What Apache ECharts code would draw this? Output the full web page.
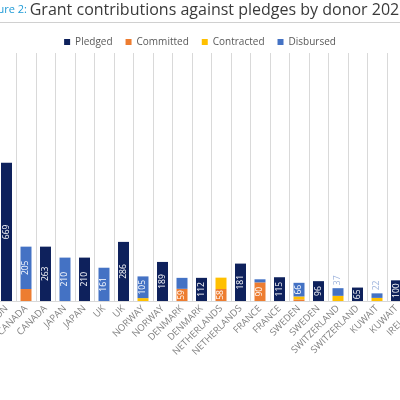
<!DOCTYPE html>
<html>
<head>
<meta charset="utf-8">
<script src="https://cdn.jsdelivr.net/npm/echarts@6/dist/echarts.min.js"></script>
<style>html,body{margin:0;padding:0;background:#fff}#c{width:400px;height:400px}</style>
</head>
<body>
<div id="c"></div>
<script>
const categories = ['EUROPEAN UNION','CANADA','CANADA','JAPAN','JAPAN','UK','UK','NORWAY','NORWAY','DENMARK','DENMARK','NETHERLANDS','NETHERLANDS','FRANCE','FRANCE','SWEDEN','SWEDEN','SWITZERLAND','SWITZERLAND','KUWAIT','KUWAIT','IRELAND'];
const pledged    = [669,null,263,null,210,null,286,null,189,null,112,null,181,null,115,null,96,null,65,null,100,null];
const committed  = [null,58,null,null,null,null,null,null,null,59,null,58,null,90,null,8,null,null,null,null,null,null];
const contracted = [null,null,null,null,null,null,null,14,null,null,null,55,null,null,null,14,null,25,null,15,null,null];
const disbursed  = [null,205,null,210,null,161,null,105,null,53,null,null,null,15,null,66,null,37,null,22,null,null];
const titlePrefix = 'Figure 2: ';
const titleMain = 'Grant contributions against pledges by donor 2021';

const seriesDefs = [
  {name:'Pledged', data:pledged, color:'#0e215c'},
  {name:'Committed', data:committed, color:'#ed7d31'},
  {name:'Contracted', data:contracted, color:'#ffc000'},
  {name:'Disbursed', data:disbursed, color:'#4472c4'}
];

function buildData(arr){
  return arr.map((v,i)=>{
    if (v == null) return null;
    const all = seriesDefs.map(s=>s.data[i] || 0);
    const isMax = v === Math.max.apply(null, all);
    if (!isMax) return {value:v, label:{show:false}};
    if (v < 45) {
      return {value:v, label:{show:true, position:'top', rotate:90, align:'left', verticalAlign:'middle', distance:3, color:'#9db3dc'}};
    }
    return {value:v, label:{show:true, position:'inside', rotate:90, align:'center', verticalAlign:'middle', color:'#ffffff'}};
  });
}

const chart = echarts.init(document.getElementById('c'));
chart.setOption({
  animation:false,
  textStyle:{fontFamily:'Open Sans'},
  graphic:[
    {type:'text', x:-17, y:18, style:{
      text:'{a|' + titlePrefix + '}{b|' + titleMain + '}',
      verticalAlign:'bottom',
      rich:{
        a:{fontSize:11, fill:'#1f9ad6', fontFamily:'Open Sans', fontWeight:'normal'},
        b:{fontSize:16, fill:'#3a3a3a', fontFamily:'Open Sans', fontWeight:'normal'}
      }
    }},
    {type:'line', shape:{x1:0,y1:22.5,x2:400,y2:22.5}, style:{stroke:'#d0d0d0', lineWidth:1}}
  ],
  legend:{
    top:32, left:'center', icon:'rect', itemWidth:6, itemHeight:6, itemGap:13,
    textStyle:{fontSize:10, color:'#595959', fontFamily:'Open Sans'},
    data:['Pledged','Committed','Contracted','Disbursed']
  },
  grid:{left:-3.25, right:-25.75, top:53, bottom:99, containLabel:false, outerBoundsMode:'none'},
  xAxis:{
    type:'category', data:categories,
    axisLine:{show:true, lineStyle:{color:'#d9d9d9'}},
    axisTick:{show:false},
    splitLine:{show:true, interval:0, lineStyle:{color:'#d9d9d9'}},
    axisLabel:{interval:0, rotate:45, margin:6, fontSize:9.5, color:'#808080', fontFamily:'Open Sans'}
  },
  yAxis:{type:'value', min:0, max:1200, show:false, splitLine:{show:false}},
  series: seriesDefs.map(s=>({
    name:s.name, type:'bar', stack:'total', barWidth:11,
    itemStyle:{color:s.color},
    label:{fontSize:8.5, fontFamily:'Open Sans'},
    data:buildData(s.data)
  }))
});
</script>
</body>
</html>
